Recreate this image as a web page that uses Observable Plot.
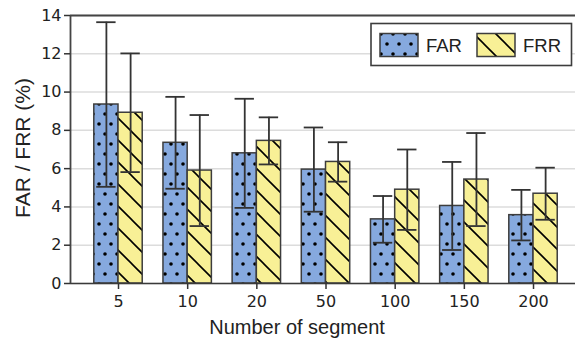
<!DOCTYPE html>
<html>
<head>
<meta charset="utf-8">
<script src="https://cdn.jsdelivr.net/npm/d3@7"></script>
<script src="https://cdn.jsdelivr.net/npm/@observablehq/plot@0.6"></script>
<style>
  html, body { margin: 0; padding: 0; background: #fff; }
  #chart svg { display: block; }
</style>
</head>
<body>
<div id="chart"></div>
<script>
// Segment counts along the x axis
const segments = ["5", "10", "20", "50", "100", "150", "200"];
// False acceptance rate (%) mean and standard deviation
const farMean = [9.35, 7.35, 6.8, 5.95, 3.35, 4.05, 3.57];
const farStd  = [4.3, 2.4, 2.85, 2.2, 1.22, 2.3, 1.32];
// False rejection rate (%) mean and standard deviation
const frrMean = [8.92, 5.9, 7.45, 6.35, 4.9, 5.43, 4.69];
const frrStd  = [3.1, 2.9, 1.23, 1.03, 2.1, 2.43, 1.36];
const yTicks = [0, 2, 4, 6, 8, 10, 12, 14];

const FAR_COLOR = "#86a9de";
const FRR_COLOR = "#f8f096";
const EDGE = "#3d3d3d";
const BAR_W = 0.35;   // bar width in category units
const CAP = 0.14;     // half width of error bar caps

const table = segments.map((s, i) => ({
  i, s,
  far: farMean[i], farLo: farMean[i] - farStd[i], farHi: farMean[i] + farStd[i],
  frr: frrMean[i], frrLo: frrMean[i] - frrStd[i], frrHi: frrMean[i] + frrStd[i]
}));
const xDomain = [-0.694, 6.607];

// Pattern definitions: dotted fill for FAR, back-slash hatch for FRR
function patternDefs() {
  const g = d3.create("svg:g");
  const defs = g.append("defs");
  const dots = defs.append("pattern")
    .attr("id", "farDots").attr("patternUnits", "userSpaceOnUse")
    .attr("width", 12).attr("height", 20);
  dots.append("rect").attr("width", 12).attr("height", 20).attr("fill", FAR_COLOR);
  dots.append("circle").attr("cx", 3).attr("cy", 4).attr("r", 1.8).attr("fill", "#000");
  dots.append("circle").attr("cx", 9).attr("cy", 14).attr("r", 1.8).attr("fill", "#000");
  const s = 22;
  const hatch = defs.append("pattern")
    .attr("id", "frrHatch").attr("patternUnits", "userSpaceOnUse")
    .attr("width", s).attr("height", s);
  hatch.append("rect").attr("width", s).attr("height", s).attr("fill", FRR_COLOR);
  hatch.append("path")
    .attr("d", `M0,0L${s},${s}M-2,${s - 2}L2,${s + 2}M${s - 2},-2L${s + 2},2`)
    .attr("stroke", "#000").attr("stroke-width", 1.6).attr("fill", "none");
  return g.node();
}

// Legend box in the upper right of the plot area
function legend(index, scales, values, dims) {
  const g = d3.create("svg:g")
    .attr("font-family", "Liberation Sans, Arial, sans-serif")
    .attr("text-anchor", "start");
  const x0 = dims.width - 204, y0 = 23.5;
  g.append("rect").attr("x", x0).attr("y", y0).attr("width", 200.5).attr("height", 42)
    .attr("fill", "#fff").attr("stroke", EDGE).attr("stroke-width", 1.6);
  const items = [
    {label: "FAR", fill: "url(#farDots)", x: x0 + 9},
    {label: "FRR", fill: "url(#frrHatch)", x: x0 + 106}
  ];
  for (const it of items) {
    g.append("rect").attr("x", it.x).attr("y", y0 + 10).attr("width", 38).attr("height", 23)
      .attr("fill", it.fill).attr("stroke", EDGE).attr("stroke-width", 1.5);
    g.append("text").attr("x", it.x + 46).attr("y", y0 + 28.3)
      .attr("font-size", 18.5).attr("fill", "#222").text(it.label);
  }
  return g.node();
}

const chart = Plot.plot({
  width: 575,
  height: 345,
  marginLeft: 70,
  marginRight: 0,
  marginTop: 15,
  marginBottom: 62,
  style: {background: "#fff", overflow: "visible"},
  x: {type: "linear", domain: xDomain},
  y: {domain: [0, 14]},
  marks: [
    patternDefs,
    Plot.gridY(yTicks, {stroke: "#dcdcdc", strokeOpacity: 1, strokeWidth: 1.5}),
    Plot.rectY(table, {x1: d => d.i - BAR_W, x2: d => d.i, y: "far",
      fill: "url(#farDots)", stroke: EDGE, strokeWidth: 1.5}),
    Plot.rectY(table, {x1: d => d.i, x2: d => d.i + BAR_W, y: "frr",
      fill: "url(#frrHatch)", stroke: EDGE, strokeWidth: 1.5}),
    // error bars
    Plot.ruleX(table, {x: d => d.i - BAR_W / 2, y1: "farLo", y2: "farHi", stroke: "#333", strokeWidth: 1.8}),
    Plot.ruleY(table, {y: "farHi", x1: d => d.i - BAR_W / 2 - CAP, x2: d => d.i - BAR_W / 2 + CAP, stroke: "#333", strokeWidth: 1.8}),
    Plot.ruleY(table, {y: "farLo", x1: d => d.i - BAR_W / 2 - CAP, x2: d => d.i - BAR_W / 2 + CAP, stroke: "#333", strokeWidth: 1.8}),
    Plot.ruleX(table, {x: d => d.i + BAR_W / 2, y1: "frrLo", y2: "frrHi", stroke: "#333", strokeWidth: 1.8}),
    Plot.ruleY(table, {y: "frrHi", x1: d => d.i + BAR_W / 2 - CAP, x2: d => d.i + BAR_W / 2 + CAP, stroke: "#333", strokeWidth: 1.8}),
    Plot.ruleY(table, {y: "frrLo", x1: d => d.i + BAR_W / 2 - CAP, x2: d => d.i + BAR_W / 2 + CAP, stroke: "#333", strokeWidth: 1.8}),
    // spines
    Plot.ruleY([0], {stroke: "#3a3a3a", strokeWidth: 1.6}),
    Plot.ruleY([14], {stroke: "#444", strokeWidth: 1.8}),
    Plot.ruleX([xDomain[0]], {stroke: "#444", strokeWidth: 1.8}),
    Plot.axisY(yTicks, {tickSize: 6, tickPadding: 3, stroke: "#333", strokeWidth: 1.5,
      fontSize: 16, fontFamily: "DejaVu Sans", fill: "#222", label: null}),
    Plot.axisX(table.map(d => d.i), {tickSize: 6, tickPadding: 6, stroke: "#333", strokeWidth: 1.5,
      tickFormat: i => segments[i], fontSize: 16, fontFamily: "DejaVu Sans", fill: "#222", label: null}),
    Plot.text(["FAR / FRR (%)"], {frameAnchor: "left", textAnchor: "middle", lineAnchor: "middle",
      rotate: -90, dx: -47.5, dy: -1.5, fontSize: 21, fontFamily: "Liberation Sans", fill: "#222"}),
    Plot.text(["Number of segment"], {frameAnchor: "bottom", textAnchor: "middle", lineAnchor: "middle",
      dx: -26, dy: 44.5, fontSize: 20, fontFamily: "Liberation Sans", fill: "#222"}),
    legend
  ]
});

document.getElementById("chart").appendChild(chart);
</script>
</body>
</html>
